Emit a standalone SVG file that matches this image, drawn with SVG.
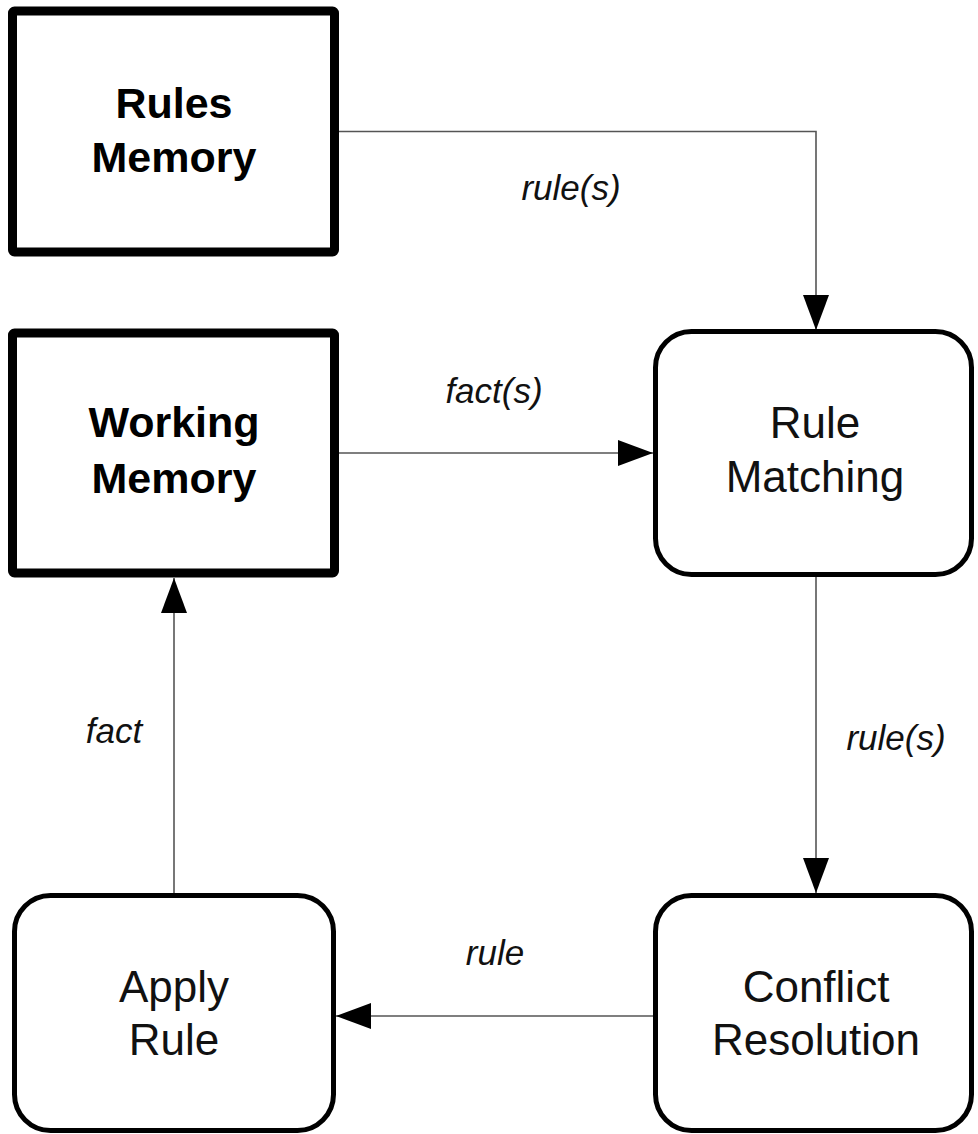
<svg xmlns="http://www.w3.org/2000/svg" width="978" height="1134" viewBox="0 0 978 1134">
<style>
.mem{fill:#fff;stroke:#000;stroke-width:9}
.proc{fill:#fff;stroke:#000;stroke-width:5}
.bold{font-family:"Liberation Sans",Arial,sans-serif;font-weight:bold;font-size:43px;fill:#000;text-anchor:middle}
.reg{font-family:"Liberation Sans",Arial,sans-serif;font-size:44px;fill:#111;text-anchor:middle}
.lbl{font-family:"Liberation Sans",Arial,sans-serif;font-style:italic;font-size:35px;fill:#111;text-anchor:middle}
.conn{fill:none;stroke:#555;stroke-width:1.6;marker-end:url(#arr)}
</style>
<defs>
<marker id="arr" markerUnits="userSpaceOnUse" markerWidth="36" markerHeight="26" refX="35" refY="13" orient="auto">
<path d="M0,0 L35,13 L0,26 z" fill="#000"/>
</marker>
</defs>
<rect width="978" height="1134" fill="#fff"/>
<g id="connectors">
<path class="conn" d="M339,131.5 H816 V330"/>
<path class="conn" d="M339,453 H653"/>
<path class="conn" d="M816,577 V893"/>
<path class="conn" d="M653,1016 H336"/>
<path class="conn" d="M174,893 V578"/>
<text class="lbl" x="571" y="200">rule(s)</text>
<text class="lbl" x="494" y="403">fact(s)</text>
<text class="lbl" x="896" y="750">rule(s)</text>
<text class="lbl" x="114" y="743">fact</text>
<text class="lbl" x="495" y="965">rule</text>
</g>
<g id="rules-memory">
<rect class="mem" x="12.5" y="11" width="322" height="241" rx="2"/>
<text class="bold" x="174" y="118">Rules</text>
<text class="bold" x="174" y="172">Memory</text>
</g>
<g id="working-memory">
<rect class="mem" x="12.5" y="333" width="322" height="240" rx="2"/>
<text class="bold" x="174" y="437">Working</text>
<text class="bold" x="174" y="493">Memory</text>
</g>
<g id="rule-matching">
<rect class="proc" x="655.5" y="331.5" width="316" height="243" rx="36"/>
<text class="reg" x="815" y="438">Rule</text>
<text class="reg" x="815" y="492">Matching</text>
</g>
<g id="conflict-resolution">
<rect class="proc" x="655.5" y="895.5" width="316" height="235" rx="36"/>
<text class="reg" x="816" y="1002">Conflict</text>
<text class="reg" x="816" y="1055">Resolution</text>
</g>
<g id="apply-rule">
<rect class="proc" x="14.5" y="895.5" width="319" height="235" rx="36"/>
<text class="reg" x="174" y="1002">Apply</text>
<text class="reg" x="174" y="1055">Rule</text>
</g>
</svg>
